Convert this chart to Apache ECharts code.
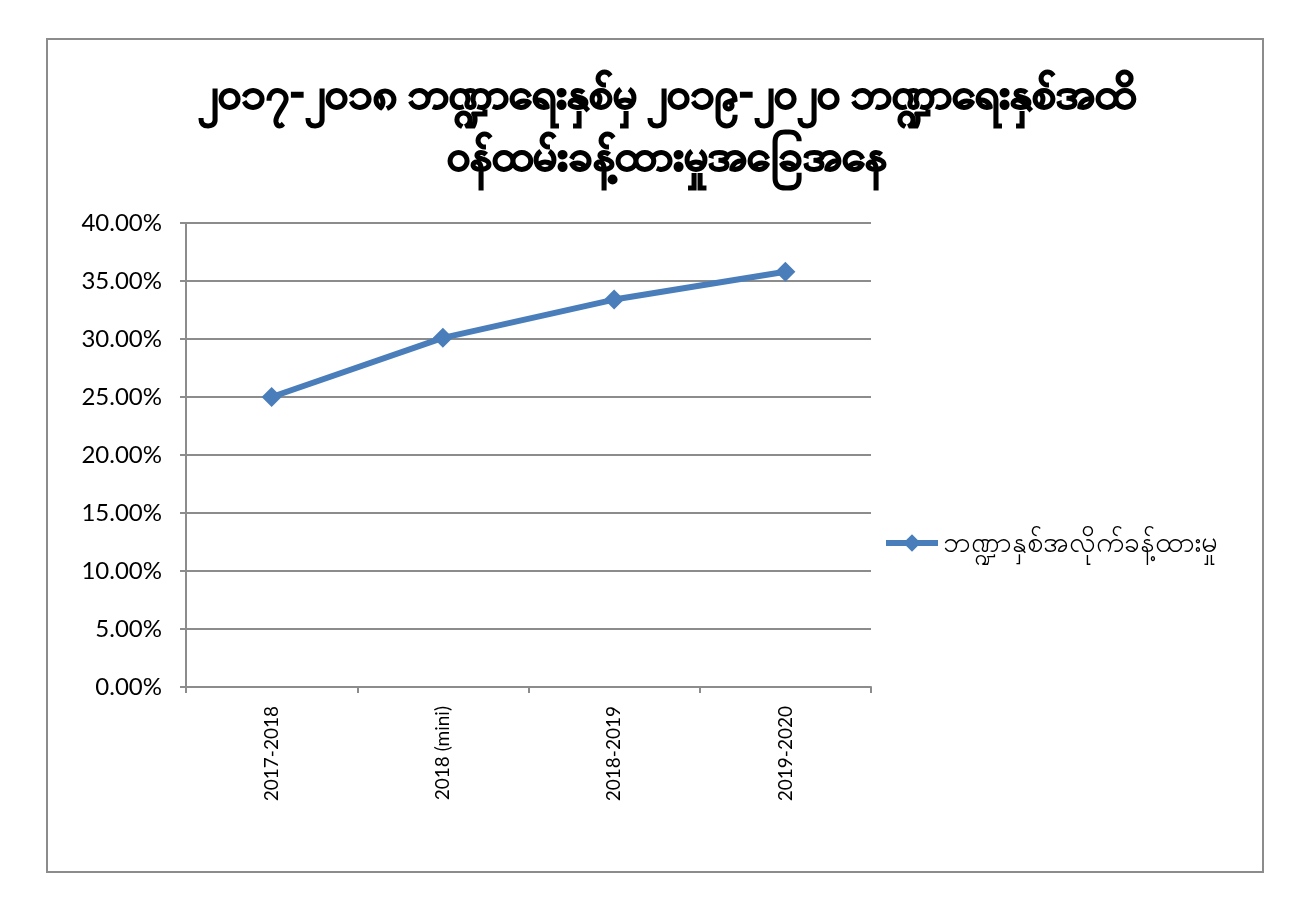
<!DOCTYPE html>
<html>
<head>
<meta charset="utf-8">
<script src="https://cdn.jsdelivr.net/npm/echarts@6/dist/echarts.min.js"></script>
<style>
html,body{margin:0;padding:0;background:#fff;}
#chart{width:1306px;height:923px;}
</style>
</head>
<body>
<div id="chart"></div>
<script>
const titleLines = ['၂၀၁၇-၂၀၁၈ ဘဏ္ဍာရေးနှစ်မှ ၂၀၁၉-၂၀၂၀ ဘဏ္ဍာရေးနှစ်အထိ', 'ဝန်ထမ်းခန့်ထားမှုအခြေအနေ'];
const categories = ['2017-2018', '2018 (mini)', '2018-2019', '2019-2020'];
const seriesName = 'ဘဏ္ဍာနှစ်အလိုက်ခန့်ထားမှု';
const values = [25.0, 30.1, 33.4, 35.8];
const yTicks = {min: 0, max: 40, interval: 5};

const chart = echarts.init(document.getElementById('chart'));
const font = 'Lato, "Open Sans", "Noto Sans", sans-serif';
chart.setOption({
  backgroundColor: '#fff',
  animation: false,
  graphic: [{
    type: 'rect',
    shape: {x: 47, y: 39, width: 1216, height: 833},
    style: {fill: 'none', stroke: '#8c8c8c', lineWidth: 2}
  }],
  title: {
    text: titleLines.join('\n'),
    left: 662, top: 58, textAlign: 'center',
    textStyle: {fontSize: 43, fontWeight: 'bold', color: '#000', lineHeight: 62, fontFamily: font,
      textBorderColor: '#000', textBorderWidth: 1.6}
  },
  legend: {
    data: [seriesName],
    left: 878, top: 524,
    itemWidth: 52, itemHeight: 22, itemGap: 3,
    lineStyle: {width: 6},
    textStyle: {fontSize: 28, color: '#000', fontFamily: font}
  },
  grid: {left: 186, right: 435, top: 223, bottom: 236},
  xAxis: {
    type: 'category', data: categories, boundaryGap: true,
    axisLine: {lineStyle: {color: '#8c8c8c', width: 2}},
    axisTick: {show: true, length: 6, lineStyle: {color: '#8c8c8c', width: 2}},
    axisLabel: {rotate: 90, fontSize: 19, color: '#000', margin: 19, fontFamily: font}
  },
  yAxis: {
    type: 'value', min: yTicks.min, max: yTicks.max, interval: yTicks.interval,
    axisLine: {show: true, lineStyle: {color: '#8c8c8c', width: 2}},
    axisTick: {show: true, length: 6, lineStyle: {color: '#8c8c8c', width: 2}},
    splitLine: {lineStyle: {color: '#8c8c8c', width: 2}},
    axisLabel: {fontSize: 24, color: '#000', margin: 24, fontFamily: font,
      formatter: v => v.toFixed(2) + '%'}
  },
  series: [{
    name: seriesName, type: 'line', data: values,
    symbol: 'diamond', symbolSize: 20,
    lineStyle: {color: '#4a7ebb', width: 6},
    itemStyle: {color: '#4a7ebb'}
  }]
});
</script>
</body>
</html>
